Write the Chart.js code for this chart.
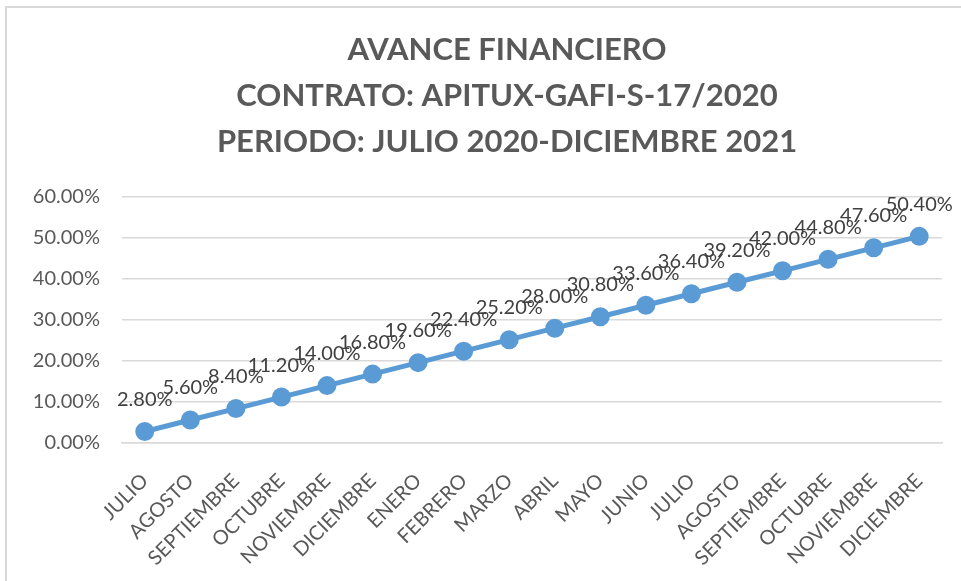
<!DOCTYPE html>
<html>
<head>
<meta charset="utf-8">
<script src="https://cdn.jsdelivr.net/npm/chart.js@4"></script>
<style>
  html, body { margin: 0; padding: 0; background: #fff; }
  #wrap { position: relative; width: 961px; height: 581px; overflow: hidden; }
  #frame { position: absolute; left: 5px; top: 6px; width: 1000px; height: 600px; border: 2px solid #d9d9d9; box-sizing: border-box; pointer-events: none; }
  canvas { position: absolute; left: 0; top: 0; }
</style>
</head>
<body>
<div id="wrap">
  <canvas id="avanceChart" width="961" height="581"></canvas>
  <div id="frame"></div>
</div>
<script>
const months = ['JULIO', 'AGOSTO', 'SEPTIEMBRE', 'OCTUBRE', 'NOVIEMBRE', 'DICIEMBRE',
  'ENERO', 'FEBRERO', 'MARZO', 'ABRIL', 'MAYO', 'JUNIO',
  'JULIO', 'AGOSTO', 'SEPTIEMBRE', 'OCTUBRE', 'NOVIEMBRE', 'DICIEMBRE'];
const avance = [2.8, 5.6, 8.4, 11.2, 14.0, 16.8, 19.6, 22.4, 25.2, 28.0, 30.8, 33.6,
  36.4, 39.2, 42.0, 44.8, 47.6, 50.4];
const titleLines = ['AVANCE FINANCIERO', 'CONTRATO: APITUX-GAFI-S-17/2020', 'PERIODO: JULIO 2020-DICIEMBRE 2021'];

const fontFam = 'Lato, "Open Sans", sans-serif';

// title is centred a bit right of the canvas middle, like the original
const titleDraw = {
  id: 'titleDraw',
  afterDraw(chart) {
    const ctx = chart.ctx;
    ctx.save();
    ctx.font = 'bold 31px ' + fontFam;
    ctx.fillStyle = '#595959';
    ctx.textAlign = 'center';
    ctx.textBaseline = 'middle';
    titleLines.forEach((t, i) => ctx.fillText(t, 507, 50 + i * 46));
    ctx.restore();
  }
};

// labels above each point
const pointLabels = {
  id: 'pointLabels',
  afterDatasetsDraw(chart) {
    const ctx = chart.ctx;
    const meta = chart.getDatasetMeta(0);
    ctx.save();
    ctx.font = '20px ' + fontFam;
    ctx.fillStyle = '#404040';
    ctx.textAlign = 'center';
    ctx.textBaseline = 'middle';
    meta.data.forEach((pt, i) => {
      ctx.fillText(avance[i].toFixed(2) + '%', pt.x, pt.y - 32);
    });
    ctx.restore();
  }
};

new Chart(document.getElementById('avanceChart'), {
  type: 'line',
  data: {
    labels: months,
    datasets: [{
      data: avance,
      borderColor: '#5b9bd5',
      backgroundColor: '#5b9bd5',
      borderWidth: 5,
      pointRadius: 7,
      pointHoverRadius: 7,
      fill: false,
      tension: 0
    }]
  },
  options: {
    responsive: false,
    animation: false,
    layout: { padding: { left: 14, right: 19, top: 197, bottom: 0 } },
    plugins: {
      legend: { display: false },
      tooltip: { enabled: false },
      title: { display: false }
    },
    scales: {
      x: {
        offset: true,
        grid: { display: false },
        border: { color: '#d9d9d9', width: 1.5 },
        afterFit: axis => { axis.height = 138; },
        ticks: {
          color: '#595959',
          padding: 18,
          font: { family: fontFam, size: 20 },
          minRotation: 45,
          maxRotation: 45,
          autoSkip: false
        }
      },
      y: {
        min: 0,
        max: 60,
        border: { display: false },
        grid: { color: '#d9d9d9', lineWidth: 1.5, drawTicks: false },
        afterFit: axis => { axis.width = 108; },
        ticks: {
          stepSize: 10,
          color: '#595959',
          padding: 22,
          font: { family: fontFam, size: 20 },
          callback: v => v.toFixed(2) + '%'
        }
      }
    }
  },
  plugins: [pointLabels, titleDraw]
});
</script>
</body>
</html>
